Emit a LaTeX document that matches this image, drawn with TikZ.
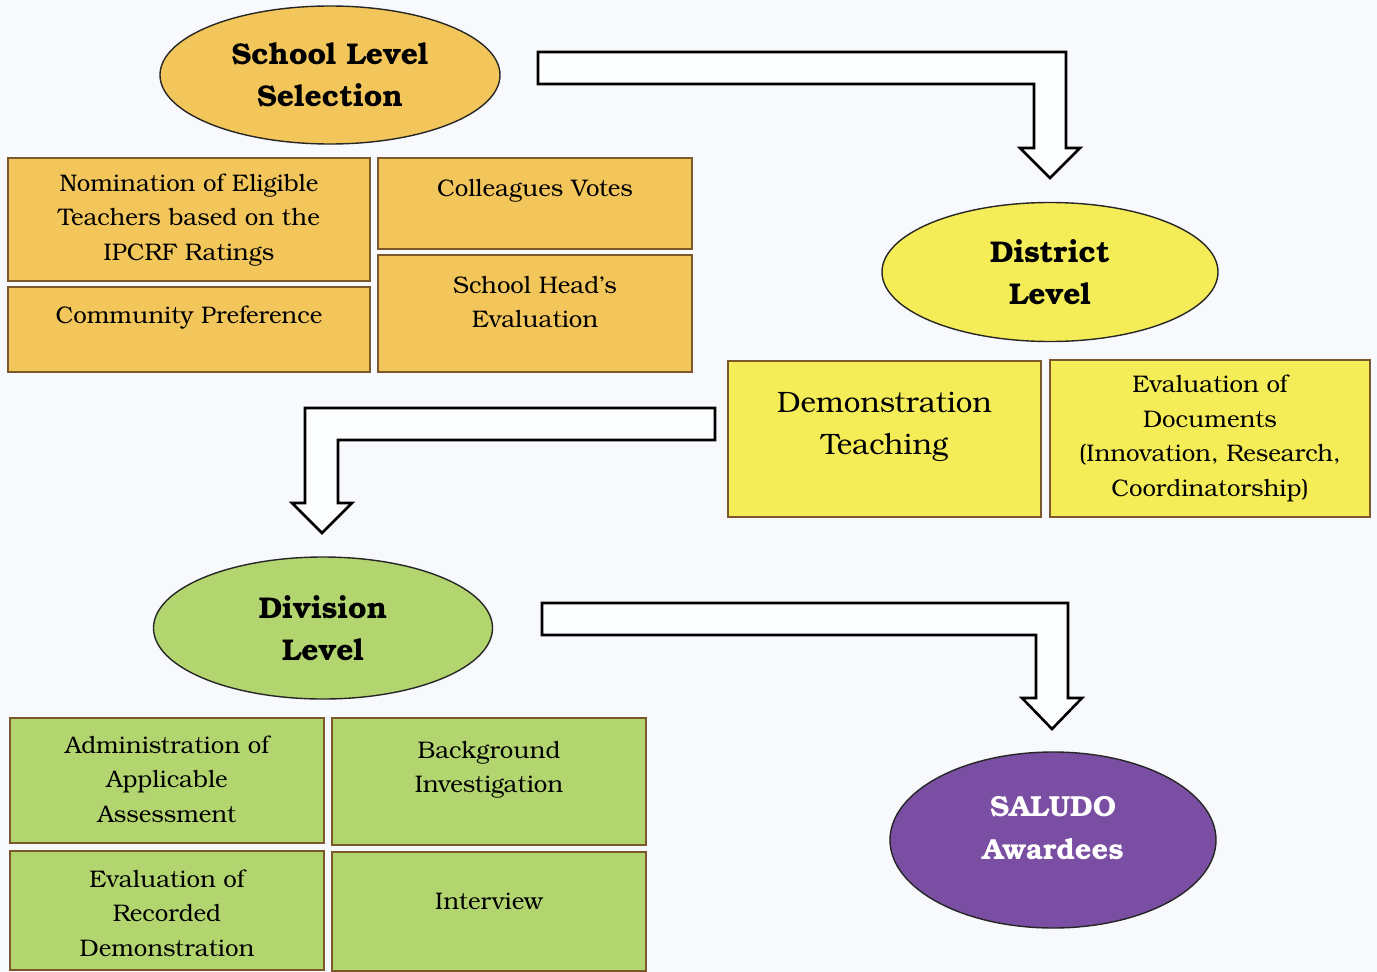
\documentclass[tikz,border=0pt]{standalone}
\usepackage{fontspec}
\setmainfont{TeX Gyre Bonum}
\usetikzlibrary{shapes.geometric}
\definecolor{bgpaper}{RGB}{247,249,252}
\definecolor{lgold}{RGB}{243,198,92}
\definecolor{lyellow}{RGB}{245,237,88}
\definecolor{lgreen}{RGB}{179,213,112}
\definecolor{lpurple}{RGB}{122,78,163}
\definecolor{dbrown}{RGB}{125,88,45}

\begin{document}
\begin{tikzpicture}[x = 1pt, y = -1pt,
	lvl/.style = {ellipse, draw = black!85, line width = 1.4pt, inner sep = 0pt, align = center, font = \fontsize{30}{42}\selectfont\bfseries},
	card/.style = {rectangle, draw = dbrown, line width = 1.8pt, inner sep = 0pt},
	cardtxt/.style = {align = center, inner sep = 0pt, font = \fontsize{24}{34.5}\selectfont},
	bent/.style = {draw = black, fill = white!60!bgpaper, line width = 2.6pt, line join = miter}]
			\useasboundingbox (0,0) rectangle (1377,972);
			\fill[bgpaper] (0,0) rectangle (1377,972);
			\node (school) at (330,75) [lvl, fill = lgold, minimum width = 340pt, minimum height = 138pt] {School Level\\Selection};
			\node (nom) at (189,219.5) [card, fill = lgold, minimum width = 362pt, minimum height = 123pt] {};
			\node (comm) at (189,329.5) [card, fill = lgold, minimum width = 362pt, minimum height = 85pt] {};
			\node (colv) at (535,203.5) [card, fill = lgold, minimum width = 314pt, minimum height = 91pt] {};
			\node (head) at (535,313.5) [card, fill = lgold, minimum width = 314pt, minimum height = 117pt] {};
			\node (nom-t) at (189,220) [cardtxt] {Nomination of Eligible\\Teachers based on the\\IPCRF Ratings};
			\node (comm-t) at (189,318) [cardtxt] {Community Preference};
			\node (colv-t) at (535,191) [cardtxt] {Colleagues Votes};
			\node (head-t) at (535,302) [cardtxt] {School Head’s\\Evaluation};
			\node (district) at (1050,272) [lvl, fill = lyellow, minimum width = 336pt, minimum height = 139pt] {District\\Level};
			\node (demo) at (884.5,439) [card, fill = lyellow, minimum width = 313pt, minimum height = 156pt] {};
			\node (docs) at (1210,438.5) [card, fill = lyellow, minimum width = 320pt, minimum height = 157pt] {};
			\node (demo-t) at (884.5,427) [cardtxt, font = \fontsize{29.5}{42}\selectfont] {Demonstration\\Teaching};
			\node (docs-t) at (1210,438.5) [cardtxt] {Evaluation of\\Documents\\(Innovation, Research,\\Coordinatorship)};
			\node (division) at (323,628) [lvl, fill = lgreen, minimum width = 339pt, minimum height = 142pt] {Division\\Level};
			\node (admin) at (167,780.5) [card, fill = lgreen, minimum width = 314pt, minimum height = 125pt] {};
			\node (bgi) at (489,781.5) [card, fill = lgreen, minimum width = 314pt, minimum height = 127pt] {};
			\node (rec) at (167,910.5) [card, fill = lgreen, minimum width = 314pt, minimum height = 119pt] {};
			\node (intv) at (489,911.5) [card, fill = lgreen, minimum width = 314pt, minimum height = 119pt] {};
			\node (admin-t) at (167,779) [cardtxt] {Administration of\\Applicable\\Assessment};
			\node (bgi-t) at (489,770) [cardtxt] {Background\\Investigation};
			\node (rec-t) at (167,913) [cardtxt] {Evaluation of\\Recorded\\Demonstration};
			\node (intv-t) at (489,901) [cardtxt] {Interview};
			\node (saludo) at (1053,840) [lvl, fill = lpurple, minimum width = 326pt, minimum height = 176pt] {};
			\node (saludo-t) at (1053,828) [align = center, inner sep = 0pt, text = white, font = \fontsize{29}{43}\selectfont\bfseries] {SALUDO\\Awardees};
			\draw[bent] (538,52) -- (1066,52) -- (1066,148) -- (1080,148) -- (1050,178) -- (1020,148) -- (1034,148) -- (1034,84) -- (538,84) -- cycle;
			\draw[bent] (715,408) -- (715,440) -- (338,440) -- (338,503) -- (352,503) -- (322,533) -- (292,503) -- (305,503) -- (305,408) -- cycle;
			\draw[bent] (542,603) -- (1068,603) -- (1068,698) -- (1082,698) -- (1052,729) -- (1022,698) -- (1036,698) -- (1036,635) -- (542,635) -- cycle;
			\end{tikzpicture}
\end{document}
